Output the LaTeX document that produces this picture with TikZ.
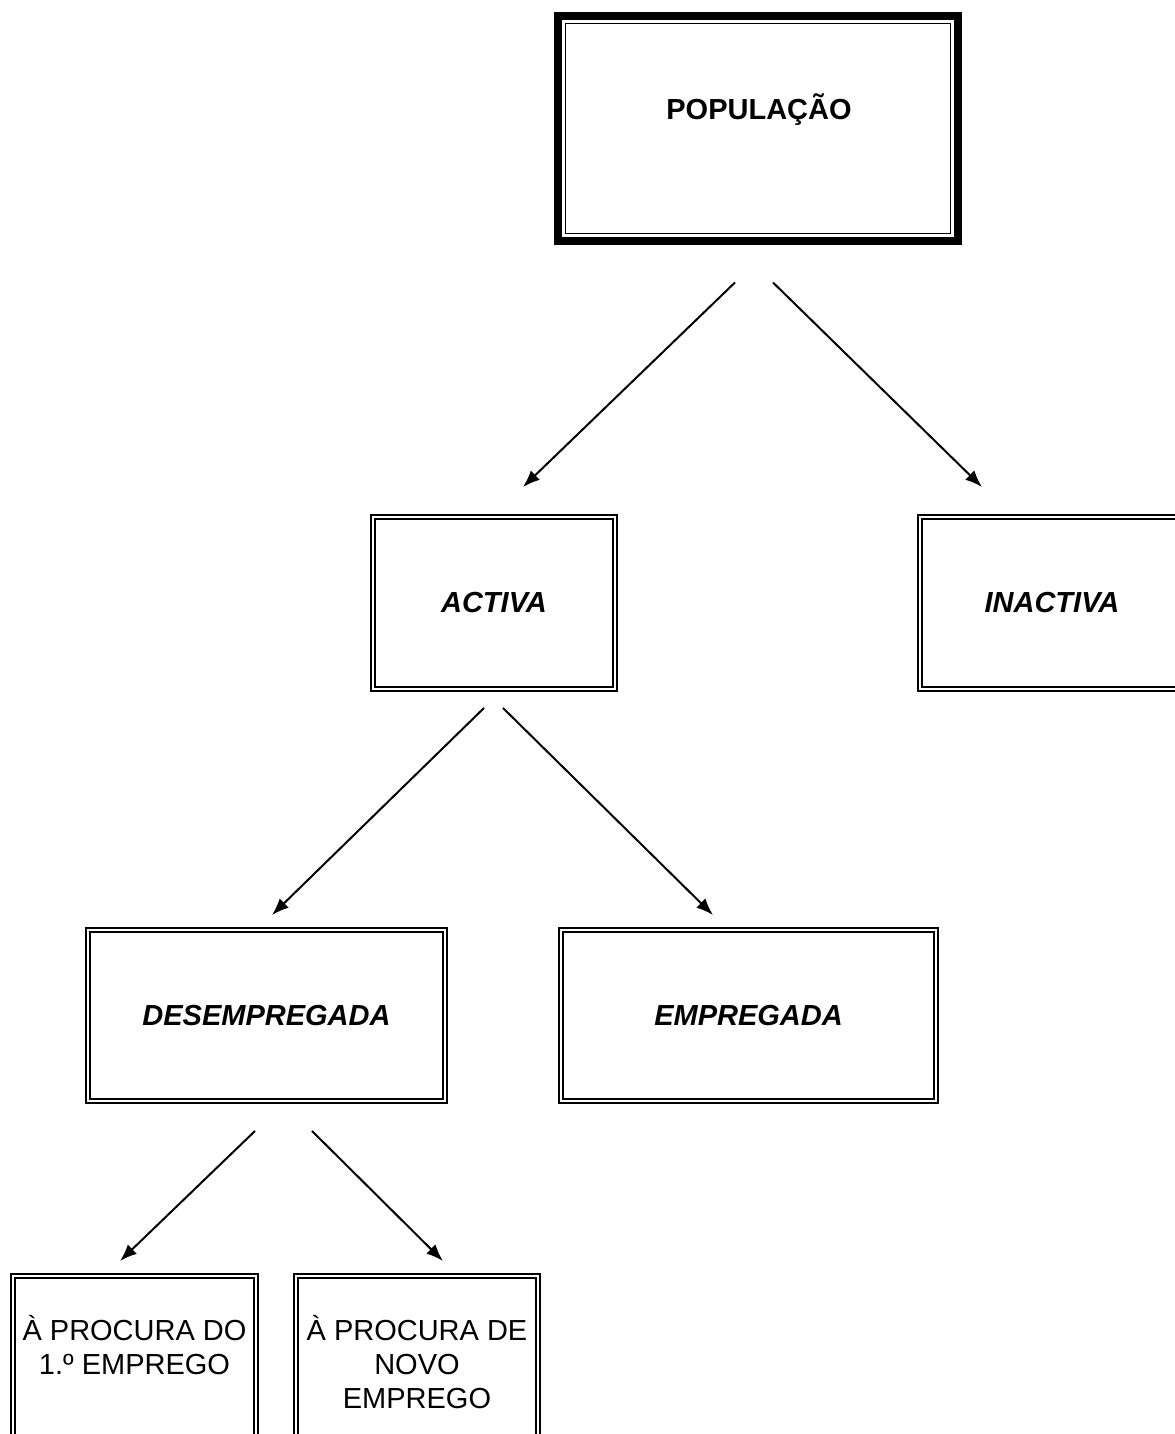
\documentclass[tikz,border=0pt]{standalone}
\usepackage{fontspec}
\setmainfont{Liberation Sans}
\usetikzlibrary{arrows.meta}
\newcommand{\boxfont}{\fontsize{16.5pt}{19.4pt}\selectfont}
\tikzset{
	box/.style={draw, double, line width=0.04cm, double distance=0.04cm, inner sep=0pt, align=center, font=\boxfont},
	grpbox/.style={box, font=\boxfont\bfseries\itshape},
	popbox/.style={draw, line width=0.16cm, inner sep=0pt, minimum width=8cm, minimum height=4.5cm},
	arr/.style={line width=0.04cm, -{Latex[length=0.34cm,width=0.26cm]}}
}
\begin{document}
\begin{tikzpicture}[x=0.02cm, y=-0.02cm]
		\useasboundingbox (0,0) rectangle (1175,1434);
		
		% top box
		\node[popbox] (pop) at (758,128.5) {};
		\draw[line width=0.03cm] ([xshift=0.23cm,yshift=-0.23cm]pop.north west) rectangle ([xshift=-0.23cm,yshift=0.23cm]pop.south east);
		\node[font=\boxfont\bfseries] (poptxt) at (759,110) {POPULAÇÃO};
		
		% second level
		\node[grpbox, minimum width=4.84cm, minimum height=3.44cm] (act) at (494,603) {ACTIVA};
		\node[grpbox, minimum width=5.28cm, minimum height=3.44cm] (inact) at (1052,603) {INACTIVA};
		
		% third level
		\node[grpbox, minimum width=7.14cm, minimum height=3.42cm] (des) at (266.5,1015.5) {DESEMPREGADA};
		\node[grpbox, minimum width=7.5cm, minimum height=3.42cm] (emp) at (748.5,1015.5) {EMPREGADA};
		
		% fourth level
		\node[box, minimum width=4.86cm, minimum height=3.44cm] (proc1) at (134.5,1362) {À PROCURA DO\\1.º EMPREGO\\\mbox{}};
		\node[box, minimum width=4.84cm, minimum height=3.44cm] (proc2) at (417,1362) {À PROCURA DE\\NOVO\\EMPREGO};
		
		\draw[arr] ([xshift=-0.46cm,yshift=-0.75cm]pop.south) -- ([xshift=0.58cm,yshift=0.58cm]act.north);
		\draw[arr] ([xshift=0.3cm,yshift=-0.75cm]pop.south) -- ([xshift=-1.4cm,yshift=0.58cm]inact.north);
		
		\draw[arr] ([xshift=-0.2cm,yshift=-0.36cm]act.south) -- ([xshift=0.11cm,yshift=0.28cm]des.north);
		\draw[arr] ([xshift=0.18cm,yshift=-0.36cm]act.south) -- ([xshift=-0.71cm,yshift=0.28cm]emp.north);
		
		\draw[arr] ([xshift=-0.23cm,yshift=-0.58cm]des.south) -- ([xshift=-0.29cm,yshift=0.28cm]proc1.north);
		\draw[arr] ([xshift=0.91cm,yshift=-0.58cm]des.south) -- ([xshift=0.52cm,yshift=0.28cm]proc2.north);
	\end{tikzpicture}
\end{document}
